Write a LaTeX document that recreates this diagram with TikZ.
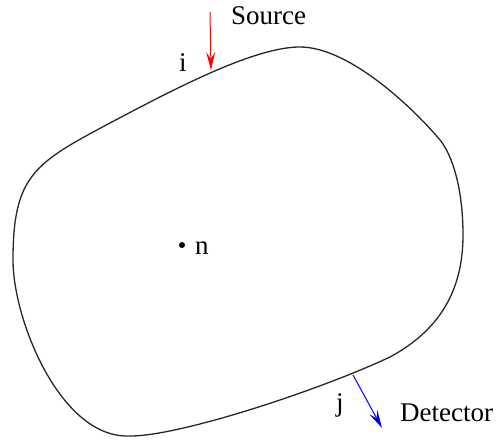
\documentclass[tikz,border=0pt]{standalone}
\usepackage{fontspec}
\setmainfont{Liberation Serif}
\usetikzlibrary{arrows.meta}
\begin{document}
\begin{tikzpicture}[x=1pt,y=-1pt,
  lbl/.style={inner sep=0pt,font=\fontsize{27}{31}\selectfont,anchor=base west},
  probe/.style={line width=1pt,-{Stealth[length=18pt,width=9pt,inset=7pt]}},
  body/.style={draw=black!85,line width=1.3pt}]
\useasboundingbox (0,0) rectangle (499,443);
\draw[body] (300,47) .. controls (350,47) and (415,110) .. (440,140)
  .. controls (453,156) and (463,190) .. (463,235)
  .. controls (463,290) and (440,330) .. (390,357)
  .. controls (320,390) and (175,438) .. (127,436)
  .. controls (60,436) and (13,320) .. (13,260)
  .. controls (13,175) and (35,163) .. (110,123)
  .. controls (178,87) and (255,47) .. cycle;
\coordinate (srctop) at (210,12);
\coordinate (srcpt) at (211,70);
\coordinate (detpt) at (353,375);
\coordinate (detend) at (382,428);
\draw[probe,red] (srctop) -- (srcpt);
\draw[probe,blue] (detpt) -- (detend);
\node[lbl] (source) at (231,25) {Source};
\node[lbl] (detector) at (400,422) {Detector};
\node[lbl] (i) at (179,72) {i};
\node[lbl] (j) at (336,412) {j};
\fill (182,245) circle (3pt) coordinate (dot);
\node[lbl] (n) at (195,255) {n};
\end{tikzpicture}
\end{document}
